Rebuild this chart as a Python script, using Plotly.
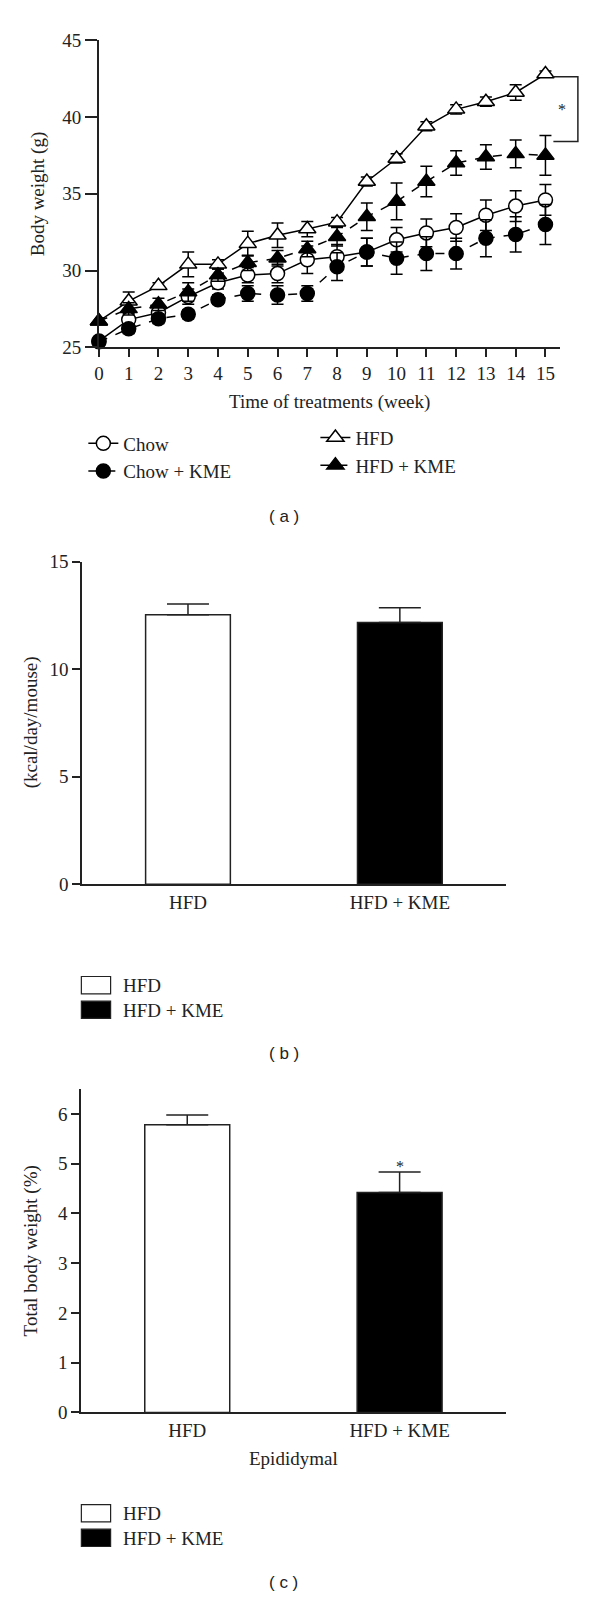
import plotly.graph_objects as go

W, H = 600, 1609

# ---- panel (a): body weight over time
weeks = list(range(16))
chow = [25.4, 26.8, 27.25, 28.3, 29.2, 29.7, 29.8, 30.7, 30.9, 31.2, 32.0, 32.45, 32.8, 33.6, 34.2, 34.6]
chow_err = [0.2, 0.4, 0.4, 0.5, 0.4, 0.5, 0.6, 0.9, 0.8, 0.9, 0.8, 0.9, 0.9, 1.0, 1.0, 1.0]
chow_kme = [25.35, 26.2, 26.85, 27.15, 28.1, 28.5, 28.4, 28.5, 30.25, 31.2, 30.8, 31.1, 31.1, 32.1, 32.35, 33.0]
chow_kme_err = [0.2, 0.3, 0.3, 0.3, 0.3, 0.5, 0.6, 0.5, 0.9, 0.9, 1.05, 1.1, 1.0, 1.2, 1.15, 1.3]
hfd = [26.7, 28.0, 29.0, 30.4, 30.4, 31.75, 32.3, 32.7, 33.15, 35.8, 37.3, 39.4, 40.5, 41.0, 41.6, 42.8]
hfd_err = [0.2, 0.6, 0.2, 0.8, 0.3, 0.8, 0.8, 0.5, 0.3, 0.3, 0.3, 0.3, 0.3, 0.3, 0.5, 0.2]
hfd_kme = [26.7, 27.5, 27.8, 28.6, 29.7, 30.5, 30.8, 31.4, 32.2, 33.5, 34.5, 35.8, 37.0, 37.4, 37.6, 37.5]
hfd_kme_err = [0.2, 0.4, 0.4, 0.6, 0.4, 0.5, 0.5, 0.5, 0.6, 0.9, 1.2, 1.0, 0.8, 0.8, 0.9, 1.3]

# ---- panel (b): energy intake
groups = ["HFD", "HFD + KME"]
intake = [12.53, 12.17]
intake_err = [0.5, 0.69]

# ---- panel (c): epididymal fat
fat = [5.78, 4.42]
fat_err = [0.2, 0.41]

SERIF = "Liberation Serif, Times New Roman, serif"
SANS = "Liberation Sans, Arial, sans-serif"
INK = "#222222"
FS = 19


def px_x(p):
    return p / W


def px_y(p):
    return 1 - p / H


fig = go.Figure()

series = [
    ("Chow", chow, chow_err, "circle", "white", "solid", "legend"),
    ("HFD", hfd, hfd_err, "triangle-up", "white", "solid", "legend2"),
    ("Chow + KME", chow_kme, chow_kme_err, "circle", "black", "dash", "legend"),
    ("HFD + KME", hfd_kme, hfd_kme_err, "triangle-up", "black", "dash", "legend2"),
]
for name, ys, err, sym, fill, dash, leg in series:
    fig.add_trace(go.Scatter(
        x=weeks, y=ys, name=name, mode="lines+markers",
        line=dict(color="black", width=1.5, dash=dash),
        marker=dict(symbol=sym, size=14 if sym == "circle" else 15, color=fill,
                    line=dict(color="black", width=1.5)),
        error_y=dict(type="data", array=err, color="black", thickness=1.5, width=6),
        cliponaxis=False, legend=leg, xaxis="x", yaxis="y",
    ))

bar_colors = ["white", "black"]
fig.add_trace(go.Bar(
    x=groups, y=intake, marker=dict(color=bar_colors, line=dict(color=INK, width=1.5)),
    error_y=dict(type="data", array=intake_err, arrayminus=[0, 0], symmetric=False,
                 color=INK, thickness=1.5, width=21),
    showlegend=False, xaxis="x2", yaxis="y2",
))
fig.add_trace(go.Bar(
    x=groups, y=fat, marker=dict(color=bar_colors, line=dict(color=INK, width=1.5)),
    error_y=dict(type="data", array=fat_err, arrayminus=[0, 0], symmetric=False,
                 color=INK, thickness=1.5, width=21),
    showlegend=False, xaxis="x3", yaxis="y3",
))

axis_common = dict(showline=True, linecolor=INK, linewidth=1.5, ticks="outside",
                   tickcolor=INK, tickwidth=1.5, showgrid=False, zeroline=False,
                   tickfont=dict(family=SERIF, size=FS, color=INK))
cat_axis = {k: v for k, v in axis_common.items() if k != "ticks"}
leg_common = dict(xanchor="left", yanchor="top", font=dict(family=SERIF, size=FS, color=INK),
                  bgcolor="rgba(0,0,0,0)", tracegroupgap=0, itemwidth=30)

fig.update_layout(
    width=W, height=H, margin=dict(l=0, r=0, t=0, b=0),
    paper_bgcolor="white", plot_bgcolor="white",
    font=dict(family=SERIF, size=FS, color=INK),
    bargap=0.6,
    xaxis=dict(domain=[px_x(94.7), px_x(560)], range=[0, 15.5], tickvals=weeks,
               ticklen=8, anchor="y", **axis_common),
    yaxis=dict(domain=[px_y(341.7), px_y(30.7)], range=[25, 45], tickvals=[25, 30, 35, 40, 45],
               ticklen=12, anchor="x", **axis_common),
    xaxis2=dict(domain=[px_x(77.7), px_x(505)], range=[-0.5, 1.5], ticks="",
                anchor="y2", **cat_axis),
    yaxis2=dict(domain=[px_y(885.7), px_y(559)], range=[0, 15], tickvals=[0, 5, 10, 15],
                ticklen=8, anchor="x2", **axis_common),
    xaxis3=dict(domain=[px_x(76.7), px_x(505)], range=[-0.5, 1.5], ticks="",
                anchor="y3", **cat_axis),
    yaxis3=dict(domain=[px_y(1421), px_y(1093.3)], range=[0, 6.5], tickvals=[0, 1, 2, 3, 4, 5, 6],
                ticklen=8, anchor="x3", **axis_common),
    legend=dict(x=px_x(79), y=px_y(420), **leg_common),
    legend2=dict(x=px_x(313), y=px_y(414), **leg_common),
)

ann = []
# axis titles
ann.append(dict(x=px_x(33), y=px_y(186), text="Body weight (g)", textangle=-90))
ann.append(dict(x=px_x(327), y=px_y(397), text="Time of treatments (week)"))
ann.append(dict(x=px_x(26), y=px_y(722), text="(kcal/day/mouse)", textangle=-90))
ann.append(dict(x=px_x(26), y=px_y(1257), text="Total body weight (%)", textangle=-90))
ann.append(dict(x=px_x(291), y=px_y(1468), text="Epididymal"))
# panel labels
for lab, yy in [("( a )", 513), ("( b )", 1057), ("( c )", 1593)]:
    ann.append(dict(x=px_x(281), y=px_y(yy), text=lab, font=dict(family=SANS, size=17, color=INK)))
# significance marks
ann.append(dict(x=px_x(562), y=px_y(101), text="*", font=dict(family=SERIF, size=16, color=INK)))
for a in ann:
    a.setdefault("xref", "paper")
    a.setdefault("yref", "paper")
    a.setdefault("showarrow", False)
    a.setdefault("xanchor", "center")
    a.setdefault("yanchor", "middle")
    fig.add_annotation(**a)

fig.add_annotation(x="HFD + KME", y=fat[1] + fat_err[1], xref="x3", yref="y3", text="*",
                   showarrow=False, yanchor="bottom", yshift=-5,
                   font=dict(family=SERIF, size=16, color=INK))

# bracket between HFD and HFD + KME at week 15
fig.add_shape(type="path", xref="paper", yref="paper",
              path="M {0},{1} L {2},{1} L {2},{3} L {0},{3}".format(
                  px_x(553), px_y(67.7), px_x(577.7), px_y(133.3)),
              line=dict(color=INK, width=1.5))

# legends for the bar panels
for top in (979.3, 1514.3):
    for i, (name, col) in enumerate(zip(groups, bar_colors)):
        y0 = top + i * 25
        fig.add_shape(type="rect", xref="paper", yref="paper",
                      x0=px_x(77), x1=px_x(106.5), y0=px_y(y0), y1=px_y(y0 + 17.5),
                      fillcolor=col, line=dict(color=INK, width=1.2))
        fig.add_annotation(x=px_x(117), y=px_y(y0 + 9), xref="paper", yref="paper",
                           text=name, showarrow=False, xanchor="left", yanchor="middle")

# page body has a default 8px margin; drop it so the figure sits at the page origin
fig.write_html("out.html", config={"displayModeBar": False},
               post_script="document.body.style.margin='0';")
